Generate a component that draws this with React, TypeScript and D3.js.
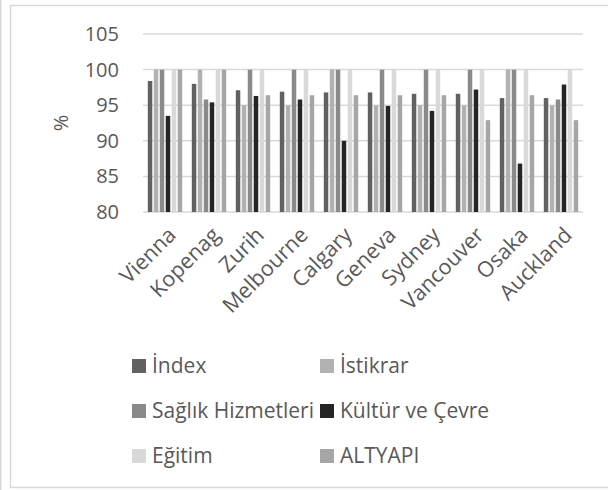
import React from "react";
import * as d3 from "d3";

const categories = ["Vienna", "Kopenag", "Zurih", "Melbourne", "Calgary", "Geneva", "Sydney", "Vancouver", "Osaka", "Auckland"];
const seriesNames = ["İndex", "İstikrar", "Sağlık Hizmetleri", "Kültür ve Çevre", "Eğitim", "ALTYAPI"];
const indexVals = [98.4, 98.0, 97.1, 96.9, 96.8, 96.8, 96.6, 96.6, 96.0, 96.0];
const istikrarVals = [100, 100, 95, 95, 100, 95, 95, 95, 100, 95];
const saglikVals = [100, 95.8, 100, 100, 100, 100, 100, 100, 100, 95.8];
const kulturVals = [93.5, 95.4, 96.3, 95.8, 90.0, 94.9, 94.2, 97.2, 86.8, 97.9];
const egitimVals = [100, 100, 100, 100, 100, 100, 100, 100, 100, 100];
const altyapiVals = [100, 100, 96.4, 96.4, 96.4, 96.4, 96.4, 92.9, 96.4, 92.9];
const yTicks = [80, 85, 90, 95, 100, 105];
const colors = ["#616161", "#b1b1b1", "#8a8a8a", "#252525", "#d9d9d9", "#a6a6a6"];

const allSeries = [indexVals, istikrarVals, saglikVals, kulturVals, egitimVals, altyapiVals];

export default function App() {
  const W = 608, H = 490;
  const left = 143, right = 583, top = 34, bottom = 212;
  const x0 = d3.scaleBand<string>().domain(categories).range([left, right]).padding(0);
  const x1 = d3.scaleBand<number>().domain(d3.range(6)).range([4.8, x0.bandwidth() - 4.8]).paddingInner(0.25).paddingOuter(0);
  const y = d3.scaleLinear().domain([80, 105]).range([bottom, top]);
  const font = "'Open Sans', sans-serif";
  const textColor = "#595959";

  return (
    <svg width={W} height={H} style={{ position: "absolute", left: 0, top: 0, background: "#fff" }} fontFamily={font}>
      <rect x={0} y={0} width={W} height={H} fill="#fff" />
      <line x1={0.75} y1={0} x2={0.75} y2={H} stroke="#d9d9d9" strokeWidth={1.5} />
      <rect x={10.5} y={5.5} width={W} height={482} fill="none" stroke="#d9d9d9" strokeWidth={1.5} />
      {yTicks.map((t) => (
        <g key={t}>
          <line x1={left} x2={right} y1={y(t)} y2={y(t)} stroke="#d9d9d9" strokeWidth={1.5} />
          <text x={119} y={y(t)} dy="0.35em" textAnchor="end" fontSize={20} fill={textColor}>{t}</text>
        </g>
      ))}
      <text transform={`translate(61,123) rotate(-90)`} textAnchor="middle" dy="0.35em" fontSize={20} fill={textColor}>%</text>
      {categories.map((c, i) => (
        <g key={c} transform={`translate(${x0(c)},0)`}>
          {allSeries.map((s, j) => (
            <rect key={j} x={x1(j)} y={y(s[i])} width={x1.bandwidth()} height={y(80) - y(s[i])} fill={colors[j]} />
          ))}
        </g>
      ))}
      {categories.map((c) => {
        const cx = (x0(c) as number) + x0.bandwidth() / 2 + 7;
        return (
          <text key={c} transform={`translate(${cx},${bottom + 19}) rotate(-45)`} textAnchor="end" dy="0.35em" fontSize={21.5} fill={textColor}>{c}</text>
        );
      })}
      {seriesNames.map((n, j) => {
        const col = j % 2, row = Math.floor(j / 2);
        const lx = col === 0 ? 132 : 320;
        const ly = 366 + row * 45;
        return (
          <g key={n}>
            <rect x={lx} y={ly - 7} width={14} height={14} fill={colors[j]} />
            <text x={lx + 20} y={ly} dy="0.35em" fontSize={21} fill={textColor}>{n}</text>
          </g>
        );
      })}
    </svg>
  );
}
